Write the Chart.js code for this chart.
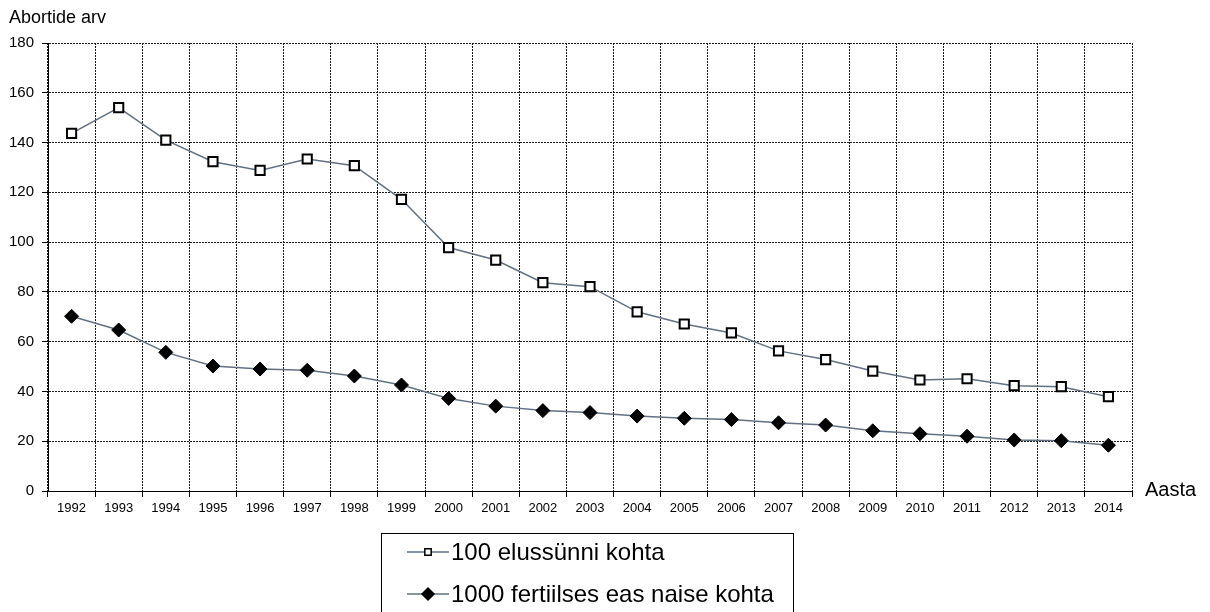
<!DOCTYPE html>
<html>
<head>
<meta charset="utf-8">
<script src="https://cdn.jsdelivr.net/npm/chart.js@4/dist/chart.umd.min.js"></script>
<style>
  html, body { margin: 0; padding: 0; background: #fff; }
  #c { display: block; }
</style>
</head>
<body>
<canvas id="c" width="1210" height="612"></canvas>
<script>
// ---- data ----
const years = ['1992','1993','1994','1995','1996','1997','1998','1999','2000','2001','2002','2003','2004','2005','2006','2007','2008','2009','2010','2011','2012','2013','2014'];
const per100Births = [143.7,154,141,132.3,128.8,133.4,130.7,117.2,97.8,92.8,83.7,82.1,72,67.1,63.5,56.3,52.8,48.2,44.6,45.1,42.3,41.9,37.9];
const per1000Women = [70.2,64.7,55.7,50.2,49,48.5,46.2,42.6,37.2,34.1,32.3,31.5,30.1,29.2,28.7,27.4,26.5,24.2,23,22,20.5,20.2,18.4];
const seriesNames = ['100 elussünni kohta', '1000 fertiilses eas naise kohta'];
const yAxisTitle = 'Abortide arv';
const xAxisTitle = 'Aasta';
const yMin = 0, yMax = 180, yStep = 20;

const FONT = '"Liberation Sans", Arial, sans-serif';
const lineColor = '#627084';

const extras = {
  id: 'extras',
  afterDraw(chart) {
    const ctx = chart.ctx;
    ctx.save();
    ctx.fillStyle = '#000';
    ctx.textBaseline = 'middle';
    ctx.textAlign = 'left';
    ctx.font = '18px ' + FONT;
    ctx.fillText(yAxisTitle, 9, 18);
    ctx.font = '20px ' + FONT;
    ctx.fillText(xAxisTitle, 1145, 490);

    // legend box
    const bx = 381.5, by = 533.5, bw = 412, bh = 100;
    ctx.strokeStyle = '#000';
    ctx.lineWidth = 1;
    ctx.strokeRect(bx, by, bw, bh);
    const rows = [552, 594];
    chart.data.datasets.forEach((ds, i) => {
      const y = rows[i];
      ctx.strokeStyle = ds.borderColor;
      ctx.lineWidth = 1.5;
      ctx.beginPath();
      ctx.moveTo(407, y);
      ctx.lineTo(449, y);
      ctx.stroke();
      ctx.fillStyle = ds.pointBackgroundColor;
      ctx.strokeStyle = ds.pointBorderColor;
      Chart.helpers.drawPoint(ctx, {
        pointStyle: ds.pointStyle,
        radius: i === 0 ? 4.5 : 6,
        rotation: 0,
        borderWidth: i === 0 ? 1.5 : 1
      }, 428, y);
      ctx.fillStyle = '#000';
      ctx.font = '24px ' + FONT;
      ctx.textBaseline = 'middle';
      ctx.fillText(ds.label, 451, y + 1);
    });
    ctx.restore();
  }
};

new Chart(document.getElementById('c'), {
  type: 'line',
  data: {
    labels: years,
    datasets: [
      {
        label: seriesNames[0],
        data: per100Births,
        borderColor: lineColor,
        borderWidth: 1.5,
        pointStyle: 'rect',
        pointRadius: 6.5,
        pointBorderWidth: 2,
        pointBackgroundColor: '#fff',
        pointBorderColor: '#000',
        tension: 0
      },
      {
        label: seriesNames[1],
        data: per1000Women,
        borderColor: lineColor,
        borderWidth: 1.5,
        pointStyle: 'rectRot',
        pointRadius: 7,
        pointBorderWidth: 1,
        pointBackgroundColor: '#000',
        pointBorderColor: '#000',
        tension: 0
      }
    ]
  },
  options: {
    responsive: false,
    animation: false,
    layout: { padding: { top: 43, right: 78, bottom: 91, left: 0 } },
    plugins: {
      legend: { display: false },
      title: { display: false },
      tooltip: { enabled: false }
    },
    scales: {
      x: {
        offset: true,
        afterFit: (s) => { s.height = 30; },
        grid: {
          offset: true,
          color: '#1a1a1a',
          lineWidth: 1,
          tickLength: 6,
          tickColor: '#000',
          drawTicks: true
        },
        border: { display: true, color: '#000', width: 1, dash: [2, 1] },
        ticks: {
          color: '#000',
          font: { family: FONT, size: 13 },
          padding: 4,
          autoSkip: false,
          maxRotation: 0
        }
      },
      y: {
        min: yMin,
        max: yMax,
        afterFit: (s) => { s.width = 48; },
        grid: {
          color: '#1a1a1a',
          lineWidth: 1,
          tickLength: 6,
          tickColor: '#000'
        },
        border: { display: true, color: '#000', width: 1, dash: [2, 1] },
        ticks: {
          stepSize: yStep,
          color: '#000',
          font: { family: FONT, size: 15 },
          padding: 8
        }
      }
    }
  },
  plugins: [extras]
});
</script>
</body>
</html>
